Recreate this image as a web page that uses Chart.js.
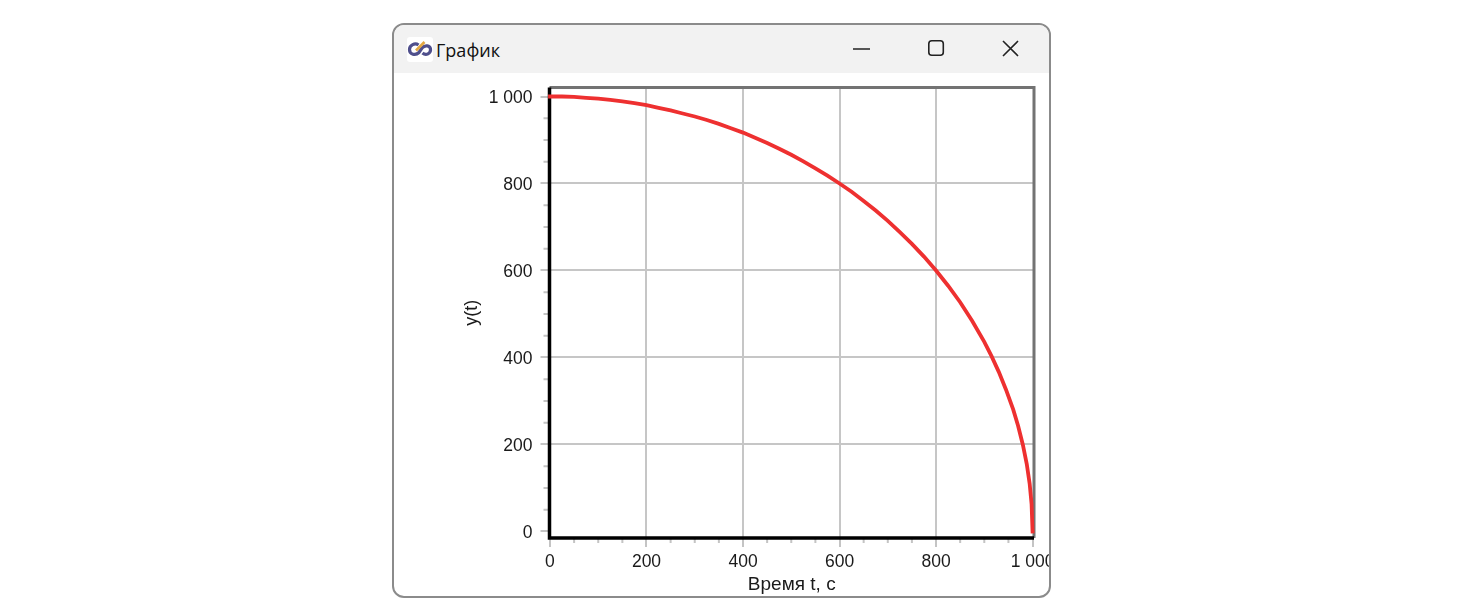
<!DOCTYPE html>
<html lang="ru">
<head>
<meta charset="utf-8">
<title>График</title>
<script src="https://cdn.jsdelivr.net/npm/chart.js@4"></script>
<style>
html,body{margin:0;padding:0;background:#fff;width:1480px;height:608px;overflow:hidden}
#win{position:absolute;left:392px;top:23px;width:655px;height:571px;border:2px solid #8b8b8b;border-radius:12px;overflow:hidden;background:#fff}
#bar{position:absolute;left:0;top:0;right:0;height:48px;background:#f2f2f2}
#ttl{position:absolute;left:42px;top:13px;font:18px/24px "Open Sans","Noto Sans",sans-serif;color:#111}
#ico{position:absolute;left:13px;top:12px}
#btn{position:absolute;left:0;top:0}
canvas{position:absolute;left:-394px;top:-25px}
</style>
</head>
<body>
<div id="win">
  <div id="bar">
    <svg id="ico" width="26" height="25" viewBox="0 0 26 25"><rect width="26" height="25" rx="3" fill="#fff"/><path d="M11.5 8 C8 5.5 2.5 8 2.5 12.5 C2.5 17.5 8.5 19 12 15.5 L15 11 C18 7.5 23 8.5 23.5 12 C24 16.5 19 19 15.5 16" fill="none" stroke="#4f4f8c" stroke-width="3.2"/><path d="M9 13.5 L17.5 5" stroke="#e3a742" stroke-width="2.6" fill="none"/></svg>
    <div id="ttl">График</div>
    <svg id="btn" width="655" height="48" fill="none" stroke="#222" stroke-width="1.6"><path d="M459 24H476"/><rect x="534.8" y="15.8" width="14.5" height="14.5" rx="3"/><path d="M609 16L624 31M624 16L609 31"/></svg>
  </div>
  <canvas id="c" width="1480" height="608"></canvas>
</div>
<script>
const xTicks = [0, 200, 400, 600, 800, 1000];
const yTicks = [0, 200, 400, 600, 800, 1000];
const tickText = ['0', '200', '400', '600', '800', '1 000'];
const minorX = [50,100,150,250,300,350,450,500,550,650,700,750,850,900,950];
const minorY = [50,100,150,250,300,350,450,500,550,650,700,750,850,900,950];
const timeValues = [0,25,50,75,100,125,150,175,200,225,250,275,300,325,350,375,400,425,450,475,500,525,550,575,600,625,650,675,700,725,750,775,800,825,850,875,900,915,930,945,960,970,980,988,994,998,1000];
const yValues = [1000,1000,999,997,995,992,989,985,980,974,968,961,954,946,937,927,917,905,893,880,866,851,835,818,800,781,760,738,714,688,661,632,600,565,527,484,436,403,367,326,280,243,199,155,110,63,0];
const xTitle = 'Время t, с';
const yTitle = 'y(t)';

let labelsNudged = false;
const frame = {
  id: 'frame',
  beforeDraw(chart) {
    if (labelsNudged) return;
    chart.scales.y.getLabelItems().forEach(item => { item.options.translation[1] += 1.5; });
    labelsNudged = true;
  },
  beforeDatasetsDraw(chart) {
    const {ctx, chartArea: a, scales: {x, y}} = chart;
    ctx.save();
    ctx.strokeStyle = '#737373';
    ctx.lineWidth = 3;
    ctx.beginPath();
    ctx.moveTo(a.left, a.top);
    ctx.lineTo(a.right, a.top);
    ctx.lineTo(a.right, a.bottom);
    ctx.stroke();
    ctx.strokeStyle = '#c4c4c4';
    ctx.lineWidth = 2;
    ctx.beginPath();
    for (const v of minorX) { const p = x.getPixelForValue(v); ctx.moveTo(p, a.bottom); ctx.lineTo(p, a.bottom + 5); }
    for (const v of minorY) { const p = y.getPixelForValue(v); ctx.moveTo(a.left, p); ctx.lineTo(a.left - 6, p); }
    ctx.stroke();
    ctx.strokeStyle = '#000';
    ctx.lineWidth = 3.5;
    ctx.beginPath();
    ctx.moveTo(a.left, a.top);
    ctx.lineTo(a.left, a.bottom);
    ctx.lineTo(a.right, a.bottom);
    ctx.stroke();
    ctx.restore();
  }
};

const fontFamily = '"Liberation Sans", Arial, sans-serif';
const tickFont = {family: fontFamily, size: 17.5};
const titleFont = {family: fontFamily, size: 19};
const yTitleFont = {family: fontFamily, size: 18};
const gridColor = (ends) => (c) => (ends.includes(c.tick && c.tick.value) ? 'rgba(0,0,0,0)' : '#c6c6c6');

new Chart(document.getElementById('c'), {
  type: 'scatter',
  data: {datasets: [{
    data: timeValues.map((t, i) => ({x: t, y: yValues[i]})),
    showLine: true, borderColor: '#ee3030', borderWidth: 3.8, borderCapStyle: 'square', pointRadius: 0, tension: 0, fill: false, clip: false
  }]},
  plugins: [frame],
  options: {
    responsive: false, animation: false,
    layout: {padding: {left: 461, right: 446, top: 87.5, bottom: 12}},
    plugins: {legend: {display: false}, tooltip: {enabled: false}},
    scales: {
      x: {
        type: 'linear', min: -1, max: 1003,
        afterBuildTicks: s => { s.ticks = xTicks.map(v => ({value: v})); },
        afterFit: s => { s.height = 58; },
        grid: {color: gridColor([0, 1000]), lineWidth: 2, tickLength: 9, tickColor: '#c4c4c4', tickWidth: 2, drawTicks: true},
        border: {display: false},
        ticks: {autoSkip: false, maxRotation: 0, font: tickFont, color: '#1a1a1a', padding: 5, callback: v => tickText[xTicks.indexOf(v)]},
        title: {display: true, text: xTitle, font: titleFont, color: '#1a1a1a', padding: {top: 0, bottom: 0}}
      },
      y: {
        type: 'linear', min: -15, max: 1020.7,
        afterBuildTicks: s => { s.ticks = yTicks.map(v => ({value: v})); },
        afterFit: s => { s.width = 88.5; },
        grid: {color: gridColor([0, 1000]), lineWidth: 2, tickLength: 9, tickColor: '#c4c4c4', tickWidth: 2},
        border: {display: false},
        ticks: {autoSkip: false, font: tickFont, color: '#1a1a1a', padding: 8, callback: v => tickText[yTicks.indexOf(v)]},
        title: {display: true, text: yTitle, font: yTitleFont, color: '#1a1a1a', padding: {top: 0, bottom: 0}}
      }
    }
  }
});
</script>
</body>
</html>
